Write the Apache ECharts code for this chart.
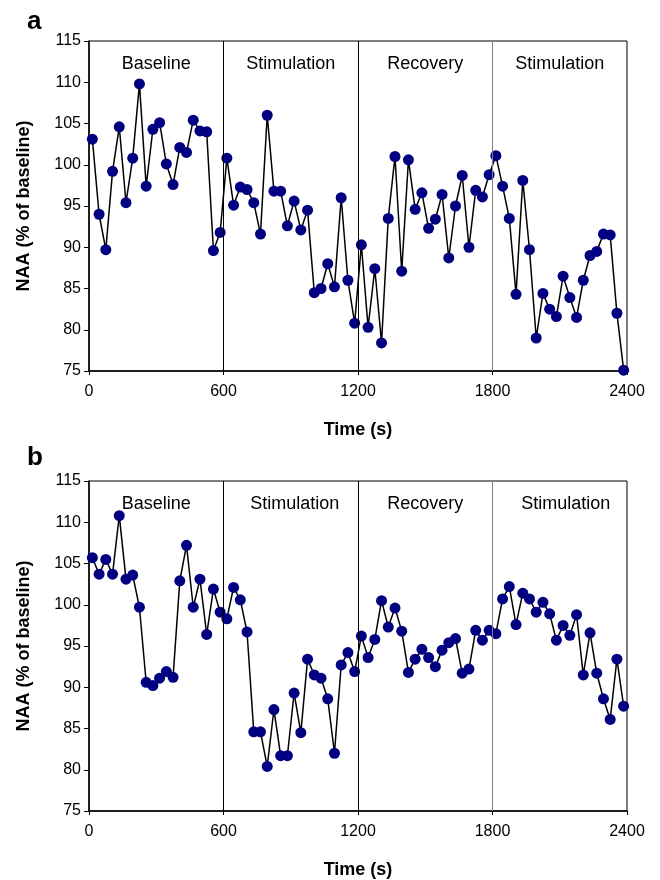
<!DOCTYPE html>
<html>
<head>
<meta charset="utf-8">
<script src="https://cdn.jsdelivr.net/npm/echarts@6/dist/echarts.min.js"></script>
<style>
html, body { margin: 0; padding: 0; background: #fff; }
#main { width: 660px; height: 880px; }
</style>
</head>
<body>
<div id="main"></div>
<script>
// sample times (s)
var timeSec = [
    15, 45, 75, 105, 135, 165, 195, 225, 255, 285,
    315, 345, 375, 405, 435, 465, 495, 525, 555, 585,
    615, 645, 675, 705, 735, 765, 795, 825, 855, 885,
    915, 945, 975, 1005, 1035, 1065, 1095, 1125, 1155, 1185,
    1215, 1245, 1275, 1305, 1335, 1365, 1395, 1425, 1455, 1485,
    1515, 1545, 1575, 1605, 1635, 1665, 1695, 1725, 1755, 1785,
    1815, 1845, 1875, 1905, 1935, 1965, 1995, 2025, 2055, 2085,
    2115, 2145, 2175, 2205, 2235, 2265, 2295, 2325, 2355, 2385
];

// panel a, NAA (% of baseline)
var naaA = [
    103.1, 94.0, 89.7, 99.2, 104.6, 95.4, 100.8, 109.8, 97.4, 104.3,
    105.1, 100.1, 97.6, 102.1, 101.5, 105.4, 104.1, 104.0, 89.6, 91.8,
    100.8, 95.1, 97.3, 97.0, 95.4, 91.6, 106.0, 96.8, 96.8, 92.6,
    95.6, 92.1, 94.5, 84.5, 85.0, 88.0, 85.2, 96.0, 86.0, 80.8,
    90.3, 80.3, 87.4, 78.4, 93.5, 101.0, 87.1, 100.6, 94.6, 96.6,
    92.3, 93.4, 96.4, 88.7, 95.0, 98.7, 90.0, 96.9, 96.1, 98.8,
    101.1, 97.4, 93.5, 84.3, 98.1, 89.7, 79.0, 84.4, 82.5, 81.6,
    86.5, 83.9, 81.5, 86.0, 89.0, 89.5, 91.6, 91.5, 82.0, 75.1
];

// panel b, NAA (% of baseline)
var naaB = [
    105.7, 103.7, 105.5, 103.7, 110.8, 103.1, 103.6, 99.7, 90.6, 90.2,
    91.1, 91.9, 91.2, 102.9, 107.2, 99.7, 103.1, 96.4, 101.9, 99.1,
    98.3, 102.1, 100.6, 96.7, 84.6, 84.6, 80.4, 87.3, 81.7, 81.7,
    89.3, 84.5, 93.4, 91.5, 91.1, 88.6, 82.0, 92.7, 94.2, 91.9,
    96.2, 93.6, 95.8, 100.5, 97.3, 99.6, 96.8, 91.8, 93.4, 94.6,
    93.6, 92.5, 94.5, 95.4, 95.9, 91.7, 92.2, 96.9, 95.7, 96.9,
    96.5, 100.7, 102.2, 97.6, 101.4, 100.7, 99.1, 100.3, 98.9, 95.7,
    97.5, 96.3, 98.8, 91.5, 96.6, 91.7, 88.6, 86.1, 93.4, 87.7
];

var periodNames = ['Baseline', 'Stimulation', 'Recovery', 'Stimulation'];
var periodEdges = [0, 600, 1200, 1800, 2400];
var dividers = [600, 1200, 1800];

var FONT = 'Liberation Sans, Arial, sans-serif';

function pairs(ys) {
    var out = [];
    for (var i = 0; i < timeSec.length; i++) out.push([timeSec[i], ys[i]]);
    return out;
}

// label nudges, px (panel b text sits a little to the right)
function periods(shift) {
    var out = [];
    for (var i = 0; i < periodNames.length; i++) {
        out.push([
            { xAxis: periodEdges[i], name: periodNames[i], label: { offset: [shift[i], 0] } },
            { xAxis: periodEdges[i + 1] }
        ]);
    }
    return out;
}

function dividerLines() {
    return dividers.map(function (x) {
        return {
            xAxis: x,
            lineStyle: { color: x === 1800 ? '#808080' : '#000', width: 1, type: 'solid' }
        };
    });
}

function xAx(idx) {
    return {
        type: 'value', gridIndex: idx, min: 0, max: 2400, interval: 600,
        name: 'Time (s)', nameLocation: 'middle', nameGap: 50,
        nameTextStyle: { fontFamily: FONT, fontSize: 18, fontWeight: 'bold', color: '#000' },
        axisLine: { lineStyle: { color: '#000', width: 1.5 } },
        axisTick: { show: true, length: 4, lineStyle: { color: '#000' } },
        axisLabel: {
            fontFamily: FONT, fontSize: 16, color: '#000', margin: 13,
            formatter: function (v) { return String(v); }
        },
        splitLine: { show: false }
    };
}

function yAx(idx) {
    return {
        type: 'value', gridIndex: idx, min: 75, max: 115, interval: 5,
        name: 'NAA (% of baseline)', nameLocation: 'middle', nameGap: 56, nameRotate: 90,
        nameTextStyle: { fontFamily: FONT, fontSize: 18, fontWeight: 'bold', color: '#000' },
        axisLine: { lineStyle: { color: '#000', width: 1.5 } },
        axisTick: { show: true, length: 5, lineStyle: { color: '#000' } },
        axisLabel: { fontFamily: FONT, fontSize: 16, color: '#000', margin: 8 },
        splitLine: { show: false }
    };
}

function series(idx, ys, shift) {
    return {
        type: 'line', xAxisIndex: idx, yAxisIndex: idx,
        data: pairs(ys), clip: false,
        symbol: 'circle', symbolSize: 11,
        itemStyle: { color: '#000080' },
        lineStyle: { color: '#000', width: 1.5 },
        markLine: { silent: true, symbol: 'none', label: { show: false }, data: dividerLines() },
        markArea: {
            silent: true,
            itemStyle: { color: 'rgba(0,0,0,0)' },
            label: {
                show: true, position: 'insideTop', distance: 14,
                fontFamily: FONT, fontSize: 18, color: '#000'
            },
            data: periods(shift)
        }
    };
}

var chart = echarts.init(document.getElementById('main'), null, { renderer: 'canvas' });
chart.setOption({
    animation: false,
    backgroundColor: '#fff',
    title: [
        { text: 'a', left: 22, top: 4, textStyle: { fontFamily: FONT, fontSize: 26, fontWeight: 'bold', color: '#000' } },
        { text: 'b', left: 22, top: 440, textStyle: { fontFamily: FONT, fontSize: 26, fontWeight: 'bold', color: '#000' } }
    ],
    grid: [
        { left: 89, right: 33, top: 41, height: 330, show: true, borderColor: '#000', borderWidth: 1 },
        { left: 89, right: 33, top: 481, height: 330, show: true, borderColor: '#000', borderWidth: 1 }
    ],
    xAxis: [xAx(0), xAx(1)],
    yAxis: [yAx(0), yAx(1)],
    series: [series(0, naaA, [0, 0, 0, 0]), series(1, naaB, [0, 4, 0, 6])]
});
</script>
</body>
</html>
